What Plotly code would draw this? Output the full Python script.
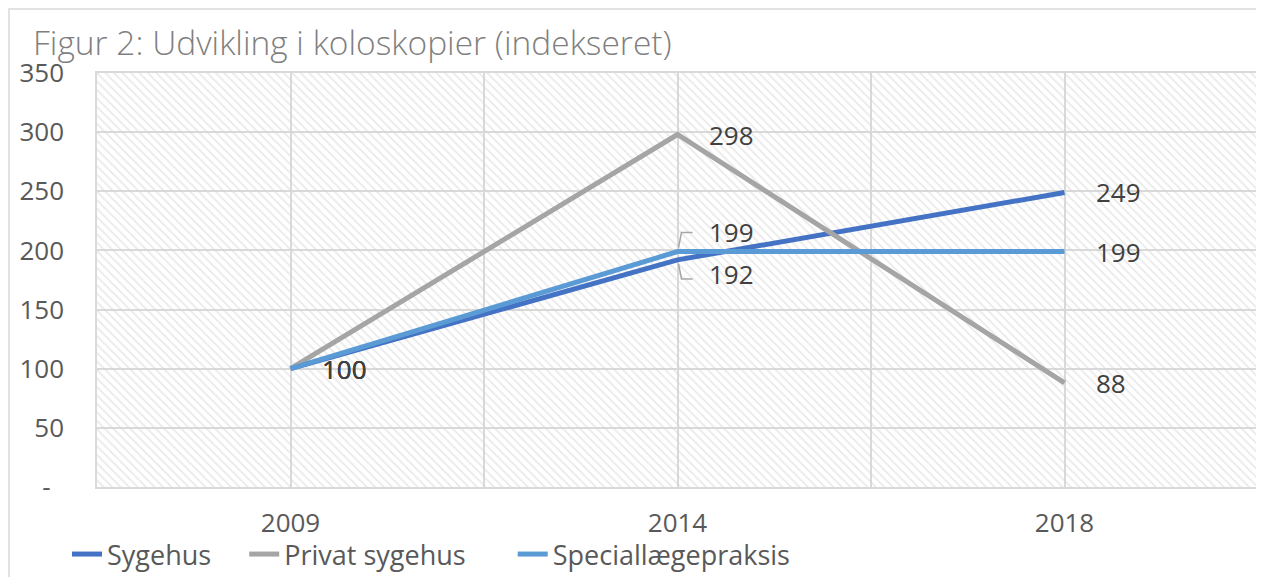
import plotly.graph_objects as go

# ---- data ----
years = ["2009", "2014", "2018"]
series_names = ["Sygehus", "Privat sygehus", "Speciallægepraksis"]
sygehus = [100, 192, 249]
privat_sygehus = [100, 298, 88]
speciallaegepraksis = [100, 199, 199]
y_tick_vals = [0, 50, 100, 150, 200, 250, 300, 350]
y_tick_text = ["-\u00a0\u00a0", "50", "100", "150", "200", "250", "300", "350"]
title_text = "Figur 2: Udvikling i koloskopier (indekseret)"

series_values = [sygehus, privat_sygehus, speciallaegepraksis]
colors = ["#4472C4", "#A5A5A5", "#5B9BD5"]
legend_pad = [4, 6, 0]  # trailing spaces to widen legend item spacing

# page has an 8px body margin; figure is sized to fit the window
OFF = 8
W, H = 1264 - OFF, 577 - OFF
ML, MR, MT, MB = 97 - OFF, 6, 73 - OFF, 90
PW, PH = W - ML - MR, H - MT - MB

def px_x(p):  # page pixel -> paper x
    return (p - OFF - ML) / PW

def px_y(p):  # page pixel -> paper y
    return (H - MB - (p - OFF)) / PH

xpos = list(range(len(years)))
ymax = y_tick_vals[-1]

FONT = "Open Sans"

fig = go.Figure()

# hatched plot-area background
fig.add_trace(go.Bar(
    x=[(xpos[0] + xpos[-1]) / 2], y=[ymax], width=[len(years)],
    marker=dict(color="rgba(0,0,0,0)", line=dict(width=0),
                pattern=dict(shape="\\", size=6, solidity=0.3,
                             fgcolor="#D4D4D4", bgcolor="rgba(0,0,0,0)")),
    showlegend=False, hoverinfo="skip",
))

for name, vals, col, pad in zip(series_names, series_values, colors, legend_pad):
    fig.add_trace(go.Scatter(
        x=xpos, y=vals, mode="lines", name=name + "\u00a0" * pad,
        line=dict(color=col, width=5),
        hovertemplate=name + ": %{y}<extra></extra>",
    ))

# data labels
offsets = {("Sygehus", 1): -14, ("Speciallægepraksis", 1): 20}
for name, vals in zip(series_names, series_values):
    for j, v in enumerate(vals):
        fig.add_annotation(
            x=xpos[j], y=v, text=str(v), showarrow=False,
            xanchor="left", yanchor="middle", xshift=29,
            yshift=offsets.get((name, j), 0),
            font=dict(family=FONT, size=26, color="#404040"),
        )

# leader lines for the crowded 2014 labels
for name, sign in (("Speciallægepraksis", 1), ("Sygehus", -1)):
    v = series_values[series_names.index(name)][1]
    fig.add_shape(
        type="path", xref="x", yref="y", xsizemode="pixel", ysizemode="pixel",
        xanchor=xpos[1], yanchor=v,
        path=f"M 1,{sign*4} L 4,{sign*19} L 15,{sign*19}",
        line=dict(color="#A6A6A6", width=1.5),
    )

# outer chart border
fig.add_shape(type="rect", xref="paper", yref="paper",
              x0=px_x(9), x1=px_x(1280), y0=px_y(9), y1=px_y(600),
              line=dict(color="#D9D9D9", width=1.5), layer="below")

fig.add_annotation(
    xref="paper", yref="paper", x=px_x(31), y=px_y(42),
    xanchor="left", yanchor="middle", showarrow=False, text=title_text,
    font=dict(family=FONT, size=33.5, color="#7F7F7F", weight=300),
)

fig.update_layout(
    width=W, height=H,
    margin=dict(l=ML, r=MR, t=MT, b=MB, autoexpand=False),
    paper_bgcolor="white", plot_bgcolor="white",
    showlegend=True,
    legend=dict(orientation="h", x=px_x(67), y=px_y(530), xanchor="left", yanchor="top",
                font=dict(family=FONT, size=27, color="#595959"),
                itemwidth=30, bgcolor="rgba(0,0,0,0)"),
    font=dict(family=FONT, color="#595959"),
    bargap=0,
)

fig.update_xaxes(
    range=[xpos[0] - 0.5, xpos[-1] + 0.5], tickvals=xpos, ticktext=years,
    showgrid=True, gridcolor="#D9D9D9", gridwidth=1.5,
    minor=dict(dtick=0.5, showgrid=True, gridcolor="#D9D9D9", gridwidth=1.5),
    showline=True, linecolor="#D9D9D9", linewidth=1.5, mirror=True,
    ticks="", ticklabelstandoff=12, zeroline=False, automargin=False,
    tickfont=dict(family=FONT, size=26, color="#595959"),
)
fig.update_yaxes(
    range=[0, ymax], tickvals=y_tick_vals, ticktext=y_tick_text,
    showgrid=True, gridcolor="#D9D9D9", gridwidth=1.5,
    showline=True, linecolor="#D9D9D9", linewidth=1.5, mirror=True,
    ticks="", ticklabelstandoff=26, zeroline=False, automargin=False,
    tickfont=dict(family=FONT, size=26, color="#595959"),
)

fig.write_html("out.html")
